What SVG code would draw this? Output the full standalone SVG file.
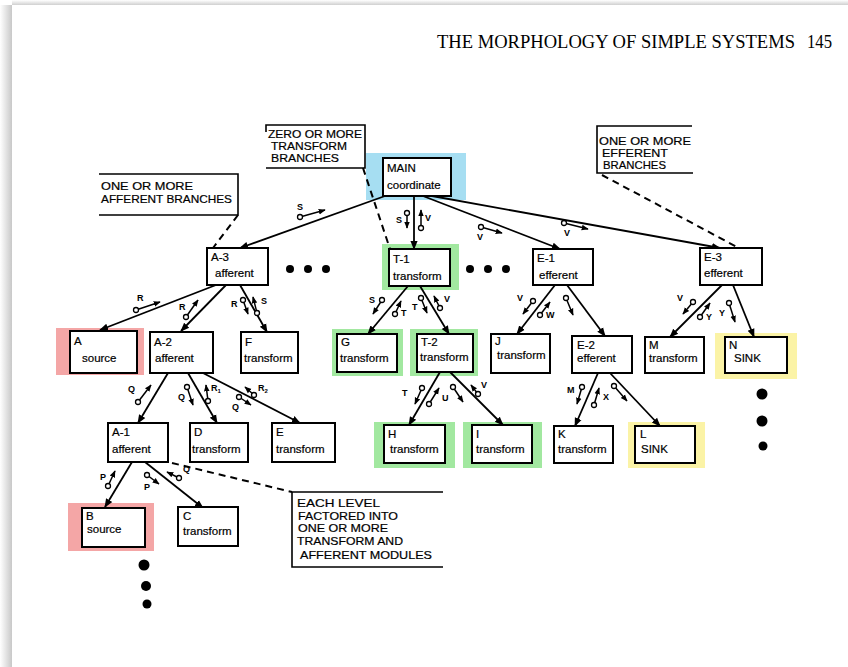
<svg xmlns="http://www.w3.org/2000/svg" width="848" height="667" viewBox="0 0 848 667">
  <defs>
    <marker id="ah" viewBox="0 0 10 10" refX="9" refY="5" markerWidth="9" markerHeight="9" markerUnits="userSpaceOnUse" orient="auto">
      <path d="M0,1 L10,5 L0,9 z" fill="#000"/>
    </marker>
    <marker id="ahs" viewBox="0 0 10 10" refX="9" refY="5" markerWidth="7" markerHeight="7" markerUnits="userSpaceOnUse" orient="auto">
      <path d="M0,1 L10,5 L0,9 z" fill="#000"/>
    </marker>
    <linearGradient id="shadeL" x1="0" y1="0" x2="1" y2="0">
      <stop offset="0" stop-color="#fff"/>
      <stop offset="1" stop-color="#c8c8c8"/>
    </linearGradient>
    <linearGradient id="shadeT" x1="0" y1="0" x2="0" y2="1">
      <stop offset="0" stop-color="#fff"/>
      <stop offset="1" stop-color="#d0d0d0"/>
    </linearGradient>
  </defs>
  <style>
    .box { fill: #fff; stroke: #000; stroke-width: 2; }
    .hl-blue { fill: #a6def2; }
    .hl-green { fill: #a2e8a0; }
    .hl-red { fill: #f4a6a6; }
    .hl-yellow { fill: #fbf3a6; }
    .lbl { font-family: "Liberation Sans", Arial, sans-serif; font-size: 11.5px; fill: #000; stroke: #000; stroke-width: 0.2; }
    .note { font-family: "Liberation Sans", Arial, sans-serif; font-size: 11px; fill: #000; stroke: #000; stroke-width: 0.2; }
    .edge { stroke: #000; stroke-width: 1.8; fill: none; marker-end: url(#ah); }
    .dash { stroke: #000; stroke-width: 2; fill: none; stroke-dasharray: 7 5; }
    .frame { stroke: #000; stroke-width: 1.6; fill: none; }
    .cpl { stroke: #000; stroke-width: 1.5; fill: none; marker-end: url(#ahs); }
    .tail { fill: #fff; stroke: #000; stroke-width: 1.3; }
    .cl { font-family: "Liberation Sans", Arial, sans-serif; font-size: 9px; font-weight: bold; fill: #000; }
    .dot { fill: #000; }
  </style>

  <!-- page -->
  <rect x="0" y="0" width="848" height="667" fill="#fff"/>
  <rect x="0" y="5" width="12" height="662" fill="url(#shadeL)"/>
  <rect x="12" y="0" width="836" height="5" fill="url(#shadeT)"/>

  <!-- running head -->
  <text x="437" y="48" font-family="Liberation Serif, Times New Roman, serif" font-size="18" textLength="358" lengthAdjust="spacingAndGlyphs">THE MORPHOLOGY OF SIMPLE SYSTEMS</text>
  <text x="807" y="48" font-family="Liberation Serif, Times New Roman, serif" font-size="18" textLength="25" lengthAdjust="spacingAndGlyphs">145</text>

  <!-- annotation frames -->
  <g id="note-transform">
    <path class="frame" d="M266,132 V125 H365 V168 H266"/>
    <text class="note" x="268" y="138" textLength="94" lengthAdjust="spacingAndGlyphs">ZERO OR MORE</text>
    <text class="note" x="271" y="150" textLength="76" lengthAdjust="spacingAndGlyphs">TRANSFORM</text>
    <text class="note" x="271" y="162" textLength="68" lengthAdjust="spacingAndGlyphs">BRANCHES</text>
  </g>
  <g id="note-efferent">
    <path class="frame" d="M692,126 H597 V173 H693"/>
    <text class="note" x="599" y="145" textLength="92" lengthAdjust="spacingAndGlyphs">ONE OR MORE</text>
    <text class="note" x="602" y="157" textLength="66" lengthAdjust="spacingAndGlyphs">EFFERENT</text>
    <text class="note" x="603" y="169" textLength="63" lengthAdjust="spacingAndGlyphs">BRANCHES</text>
  </g>
  <g id="note-afferent">
    <path class="frame" d="M99,174 H238 V215 H99"/>
    <text class="note" x="101" y="190" textLength="92" lengthAdjust="spacingAndGlyphs">ONE OR MORE</text>
    <text class="note" x="101" y="203" textLength="131" lengthAdjust="spacingAndGlyphs">AFFERENT BRANCHES</text>
  </g>
  <g id="note-levels">
    <path class="frame" d="M443,492 H292 V567 H443"/>
    <text class="note" x="297" y="507" textLength="83" lengthAdjust="spacingAndGlyphs">EACH LEVEL</text>
    <text class="note" x="298" y="520" textLength="100" lengthAdjust="spacingAndGlyphs">FACTORED INTO</text>
    <text class="note" x="298" y="532" textLength="90" lengthAdjust="spacingAndGlyphs">ONE OR MORE</text>
    <text class="note" x="297" y="545" textLength="106" lengthAdjust="spacingAndGlyphs">TRANSFORM AND</text>
    <text class="note" x="300" y="559" textLength="132" lengthAdjust="spacingAndGlyphs">AFFERENT MODULES</text>
  </g>

  <!-- highlights behind nodes -->
  <g id="highlights">
    <rect class="hl-blue" x="366" y="153" width="100" height="47"/>
    <rect class="hl-green" x="382" y="244" width="77" height="46"/>
    <rect class="hl-red" x="56" y="328" width="88" height="47"/>
    <rect class="hl-green" x="332" y="329" width="71" height="47"/>
    <rect class="hl-green" x="410" y="329" width="68" height="47"/>
    <rect class="hl-yellow" x="715" y="333" width="82" height="46"/>
    <rect class="hl-green" x="374" y="422" width="81" height="46"/>
    <rect class="hl-green" x="463" y="422" width="79" height="46"/>
    <rect class="hl-yellow" x="628" y="422" width="77" height="46"/>
    <rect class="hl-red" x="68" y="503" width="86" height="48"/>
  </g>

  <!-- connectors -->
  <g id="connectors">
    <path class="edge" d="M385,196 L240,248"/>
    <path class="edge" d="M414,196 L414,249"/>
    <path class="edge" d="M423,196 L560,249"/>
    <path class="edge" d="M432,196 L720,248"/>

    <path class="edge" d="M216,285 L100,330"/>
    <path class="edge" d="M226,285 L181,331"/>
    <path class="edge" d="M240,285 L267,332"/>

    <path class="edge" d="M168,373 L138,423"/>
    <path class="edge" d="M188,373 L217,423"/>
    <path class="edge" d="M203,373 L300,423"/>

    <path class="edge" d="M132,462 L105,507"/>
    <path class="edge" d="M145,462 L203,508"/>

    <path class="edge" d="M408,286 L368,334"/>
    <path class="edge" d="M420,286 L449,334"/>
    <path class="edge" d="M440,372 L409,425"/>
    <path class="edge" d="M450,372 L503,425"/>

    <path class="edge" d="M555,285 L517,334"/>
    <path class="edge" d="M567,285 L605,336"/>
    <path class="edge" d="M598,373 L575,426"/>
    <path class="edge" d="M610,373 L660,426"/>

    <path class="edge" d="M722,285 L670,337"/>
    <path class="edge" d="M733,285 L754,337"/>

    <!-- dashed leaders from the notes -->
    <path class="dash" d="M363,168 L390,249"/>
    <path class="dash" d="M602,175 L737,247"/>
    <path class="dash" d="M238,215 L213,248"/>
    <path class="dash" d="M172,463 L292,492"/>
  </g>

  <!-- data couples -->
  <g id="couples">
    <!-- MAIN / A-3 -->
    <path class="cpl" d="M300,217 L325,210"/><circle class="tail" cx="300" cy="217" r="2.5"/>
    <text class="cl" x="297" y="210">S</text>
    <!-- MAIN / T-1 -->
    <path class="cpl" d="M407,213 L407,228"/><circle class="tail" cx="407" cy="213" r="2.5"/>
    <text class="cl" x="396" y="223">S</text>
    <path class="cpl" d="M421,228 L421,210"/><circle class="tail" cx="421" cy="228" r="2.5"/>
    <text class="cl" x="425" y="221">V</text>
    <!-- MAIN / E-1 -->
    <path class="cpl" d="M481,227 L502,233"/><circle class="tail" cx="481" cy="227" r="2.5"/>
    <text class="cl" x="477" y="240">V</text>
    <!-- MAIN / E-3 -->
    <path class="cpl" d="M564,223 L588,229"/><circle class="tail" cx="564" cy="223" r="2.5"/>
    <text class="cl" x="564" y="236">V</text>

    <!-- A-3 children -->
    <path class="cpl" d="M136,310 L160,302"/><circle class="tail" cx="136" cy="310" r="2.5"/>
    <text class="cl" x="137" y="301">R</text>
    <path class="cpl" d="M186,317 L198,300"/><circle class="tail" cx="186" cy="317" r="2.5"/>
    <text class="cl" x="179" y="310">R</text>
    <path class="cpl" d="M243,300 L248,314"/><circle class="tail" cx="243" cy="300" r="2.5"/>
    <text class="cl" x="231" y="307">R</text>
    <path class="cpl" d="M257,313 L253,297"/><circle class="tail" cx="257" cy="313" r="2.5"/>
    <text class="cl" x="261" y="304">S</text>

    <!-- A-2 children -->
    <path class="cpl" d="M138,402 L151,385"/><circle class="tail" cx="138" cy="402" r="2.5"/>
    <text class="cl" x="128" y="392">Q</text>
    <path class="cpl" d="M187,387 L193,405"/><circle class="tail" cx="187" cy="387" r="2.5"/>
    <text class="cl" x="178" y="400">Q</text>
    <path class="cpl" d="M208,401 L206,385"/><circle class="tail" cx="208" cy="401" r="2.5"/>
    <text class="cl" x="211" y="391">R<tspan font-size="6" dy="2">1</tspan></text>
    <path class="cpl" d="M239,397 L251,405"/><circle class="tail" cx="239" cy="397" r="2.5"/>
    <text class="cl" x="232" y="410">Q</text>
    <path class="cpl" d="M254,395 L245,387"/><circle class="tail" cx="254" cy="395" r="2.5"/>
    <text class="cl" x="258" y="391">R<tspan font-size="6" dy="2">2</tspan></text>

    <!-- A-1 children -->
    <path class="cpl" d="M108,486 L115,471"/><circle class="tail" cx="108" cy="486" r="2.5"/>
    <text class="cl" x="100" y="480">P</text>
    <path class="cpl" d="M147,475 L159,484"/><circle class="tail" cx="147" cy="475" r="2.5"/>
    <text class="cl" x="144" y="490">P</text>
    <path class="cpl" d="M179,478 L167,472"/><circle class="tail" cx="179" cy="478" r="2.5"/>
    <text class="cl" x="183" y="472">Q</text>

    <!-- T-1 children -->
    <path class="cpl" d="M382,300 L373,314"/><circle class="tail" cx="382" cy="300" r="2.5"/>
    <text class="cl" x="369" y="303">S</text>
    <path class="cpl" d="M395,314 L401,301"/><circle class="tail" cx="395" cy="314" r="2.5"/>
    <text class="cl" x="401" y="316">T</text>
    <path class="cpl" d="M421,298 L427,313"/><circle class="tail" cx="421" cy="298" r="2.5"/>
    <text class="cl" x="412" y="310">T</text>
    <path class="cpl" d="M440,308 L434,296"/><circle class="tail" cx="440" cy="308" r="2.5"/>
    <text class="cl" x="444" y="302">V</text>

    <!-- T-2 children -->
    <path class="cpl" d="M422,388 L415,404"/><circle class="tail" cx="422" cy="388" r="2.5"/>
    <text class="cl" x="402" y="396">T</text>
    <path class="cpl" d="M429,404 L439,388"/><circle class="tail" cx="429" cy="404" r="2.5"/>
    <text class="cl" x="442" y="401">U</text>
    <path class="cpl" d="M453,387 L463,402"/><circle class="tail" cx="453" cy="387" r="2.5"/>
    <path class="cpl" d="M478,394 L471,385"/><circle class="tail" cx="478" cy="394" r="2.5"/>
    <text class="cl" x="481" y="388">V</text>

    <!-- E-1 children -->
    <path class="cpl" d="M533,301 L523,314"/><circle class="tail" cx="533" cy="301" r="2.5"/>
    <text class="cl" x="517" y="301">V</text>
    <path class="cpl" d="M540,315 L550,302"/><circle class="tail" cx="540" cy="315" r="2.5"/>
    <text class="cl" x="546" y="318">W</text>
    <path class="cpl" d="M566,298 L573,315"/><circle class="tail" cx="566" cy="298" r="2.5"/>

    <!-- E-2 children -->
    <path class="cpl" d="M582,387 L577,404"/><circle class="tail" cx="582" cy="387" r="2.5"/>
    <text class="cl" x="567" y="393">M</text>
    <path class="cpl" d="M594,405 L599,388"/><circle class="tail" cx="594" cy="405" r="2.5"/>
    <text class="cl" x="603" y="400">X</text>
    <path class="cpl" d="M614,386 L627,401"/><circle class="tail" cx="614" cy="386" r="2.5"/>

    <!-- E-3 children -->
    <path class="cpl" d="M693,302 L683,314"/><circle class="tail" cx="693" cy="302" r="2.5"/>
    <text class="cl" x="677" y="301">V</text>
    <path class="cpl" d="M700,317 L710,303"/><circle class="tail" cx="700" cy="317" r="2.5"/>
    <text class="cl" x="706" y="320">Y</text>
    <path class="cpl" d="M729,303 L735,322"/><circle class="tail" cx="729" cy="303" r="2.5"/>
    <text class="cl" x="719" y="316">Y</text>
  </g>

  <!-- continuation dots -->
  <g id="dots">
    <circle class="dot" cx="290" cy="269" r="4"/>
    <circle class="dot" cx="308" cy="269" r="4"/>
    <circle class="dot" cx="326" cy="269" r="4"/>
    <circle class="dot" cx="470" cy="269" r="4"/>
    <circle class="dot" cx="488" cy="269" r="4"/>
    <circle class="dot" cx="506" cy="269" r="4"/>
    <circle class="dot" cx="762" cy="394" r="5.5"/>
    <circle class="dot" cx="762" cy="421" r="5.5"/>
    <circle class="dot" cx="763" cy="446" r="4.5"/>
    <circle class="dot" cx="144" cy="565" r="5.5"/>
    <circle class="dot" cx="146" cy="586" r="5"/>
    <circle class="dot" cx="147" cy="604" r="4.5"/>
  </g>

  <!-- modules -->
  <g id="main"><rect class="box" x="383" y="158" width="68" height="38"/>
    <text class="lbl" x="387" y="172">MAIN</text><text class="lbl" x="387" y="189">coordinate</text></g>
  <g id="a3"><rect class="box" x="207" y="248" width="61" height="37"/>
    <text class="lbl" x="211" y="261">A-3</text><text class="lbl" x="215" y="277">afferent</text></g>
  <g id="t1"><rect class="box" x="389" y="249" width="61" height="37"/>
    <text class="lbl" x="393" y="263">T-1</text><text class="lbl" x="393" y="280">transform</text></g>
  <g id="e1"><rect class="box" x="533" y="249" width="60" height="36"/>
    <text class="lbl" x="537" y="262">E-1</text><text class="lbl" x="539" y="279">efferent</text></g>
  <g id="e3"><rect class="box" x="700" y="248" width="62" height="37"/>
    <text class="lbl" x="704" y="261">E-3</text><text class="lbl" x="704" y="277">efferent</text></g>

  <g id="a"><rect class="box" x="70" y="331" width="67" height="42"/>
    <text class="lbl" x="74" y="345">A</text><text class="lbl" x="82" y="362">source</text></g>
  <g id="a2"><rect class="box" x="150" y="332" width="63" height="41"/>
    <text class="lbl" x="154" y="346">A-2</text><text class="lbl" x="155" y="362">afferent</text></g>
  <g id="f"><rect class="box" x="241" y="332" width="57" height="41"/>
    <text class="lbl" x="245" y="346">F</text><text class="lbl" x="244" y="362">transform</text></g>
  <g id="g"><rect class="box" x="337" y="334" width="60" height="38"/>
    <text class="lbl" x="341" y="346">G</text><text class="lbl" x="340" y="362">transform</text></g>
  <g id="t2"><rect class="box" x="417" y="334" width="56" height="38"/>
    <text class="lbl" x="421" y="346">T-2</text><text class="lbl" x="420" y="361">transform</text></g>
  <g id="j"><rect class="box" x="491" y="334" width="59" height="39"/>
    <text class="lbl" x="495" y="345">J</text><text class="lbl" x="497" y="359">transform</text></g>
  <g id="e2"><rect class="box" x="572" y="336" width="60" height="37"/>
    <text class="lbl" x="577" y="349">E-2</text><text class="lbl" x="577" y="362">efferent</text></g>
  <g id="m"><rect class="box" x="645" y="337" width="59" height="36"/>
    <text class="lbl" x="649" y="349">M</text><text class="lbl" x="649" y="362">transform</text></g>
  <g id="n"><rect class="box" x="725" y="337" width="62" height="36"/>
    <text class="lbl" x="729" y="349">N</text><text class="lbl" x="734" y="362">SINK</text></g>

  <g id="a1"><rect class="box" x="108" y="423" width="60" height="39"/>
    <text class="lbl" x="112" y="436">A-1</text><text class="lbl" x="112" y="453">afferent</text></g>
  <g id="d"><rect class="box" x="190" y="423" width="58" height="39"/>
    <text class="lbl" x="194" y="436">D</text><text class="lbl" x="192" y="453">transform</text></g>
  <g id="e"><rect class="box" x="272" y="423" width="63" height="39"/>
    <text class="lbl" x="276" y="436">E</text><text class="lbl" x="276" y="453">transform</text></g>
  <g id="h"><rect class="box" x="384" y="425" width="61" height="38"/>
    <text class="lbl" x="388" y="438">H</text><text class="lbl" x="390" y="453">transform</text></g>
  <g id="i"><rect class="box" x="472" y="425" width="60" height="38"/>
    <text class="lbl" x="476" y="438">I</text><text class="lbl" x="476" y="453">transform</text></g>
  <g id="k"><rect class="box" x="554" y="426" width="59" height="37"/>
    <text class="lbl" x="558" y="438">K</text><text class="lbl" x="558" y="453">transform</text></g>
  <g id="l"><rect class="box" x="635" y="426" width="60" height="37"/>
    <text class="lbl" x="640" y="438">L</text><text class="lbl" x="641" y="453">SINK</text></g>

  <g id="b"><rect class="box" x="82" y="508" width="63" height="39"/>
    <text class="lbl" x="86" y="520">B</text><text class="lbl" x="87" y="533">source</text></g>
  <g id="c"><rect class="box" x="178" y="507" width="60" height="39"/>
    <text class="lbl" x="183" y="520">C</text><text class="lbl" x="183" y="535">transform</text></g>
</svg>
